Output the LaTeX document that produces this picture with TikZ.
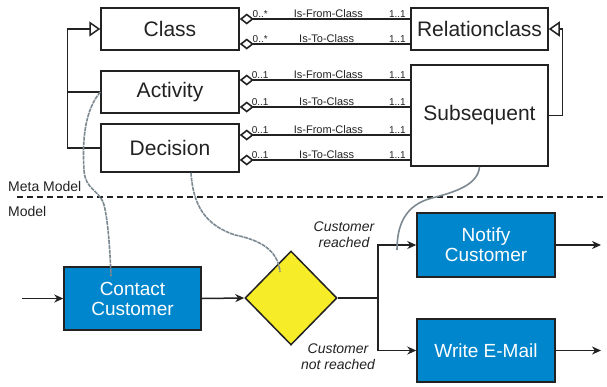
\documentclass[tikz,border=0pt]{standalone}
\usepackage{fontspec}
\setmainfont{Liberation Sans}
\usetikzlibrary{arrows.meta,shapes.geometric,calc}
\definecolor{boxblue}{RGB}{0,134,204}
\definecolor{dyellow}{RGB}{247,236,40}
\definecolor{txt}{RGB}{34,34,34}
\definecolor{linkgray}{RGB}{125,137,145}
\begin{document}
\begin{tikzpicture}[x=1pt,y=-1pt,
  metabox/.style={draw=txt,line width=1.5pt,fill=white,inner sep=0pt,text=txt,
    font=\fontsize{21}{24}\selectfont},
  procbox/.style={draw=txt,line width=1.5pt,fill=boxblue,inner sep=0pt,text=white,
    align=center,font=\fontsize{19}{22}\selectfont},
  assoc/.style={draw=txt,line width=1.5pt,{Diamond[open,length=14pt,width=11pt,line width=1.6pt]}-},
  gen/.style={draw=txt,line width=1.4pt,-{Triangle[open,length=11pt,width=15pt,line width=1.5pt]}},
  tree/.style={draw=txt,line width=1.4pt},
  flow/.style={draw=txt,line width=1.5pt,-{Stealth[length=9pt,width=8pt]}},
  lbl/.style={font=\fontsize{11}{12}\selectfont,text=txt,inner sep=1pt,anchor=south},
  mult/.style={font=\fontsize{10}{12}\selectfont,text=txt,inner sep=1pt,anchor=south},
  cond/.style={font=\itshape\fontsize{14}{16}\selectfont,text=txt,align=center,inner sep=0pt},
  link/.style={draw=linkgray,line width=1.6pt},
  linkd/.style={link,dash pattern=on 4pt off 0.8pt},
  sect/.style={font=\fontsize{14}{16}\selectfont,text=txt,inner sep=0pt,anchor=base west}
]
\useasboundingbox (0,0) rectangle (607,386);

% meta model boxes
\node[metabox,minimum width=138pt,minimum height=42pt] (Class) at (170,29) {Class};
\node[metabox,minimum width=138pt,minimum height=42pt] (Activity) at (170,92) {Activity};
\node[metabox,minimum width=138pt,minimum height=48pt] (Decision) at (170,148) {Decision};
\node[metabox,minimum width=137pt,minimum height=42pt] (Relation) at (479.5,29) {Relationclass};
\node[metabox,minimum width=137pt,minimum height=101pt] (Subseq) at (479.5,115.5) {Subsequent};

% associations
\coordinate (c1) at ([yshift=10pt]Class.east);
\coordinate (c2) at ([yshift=-15pt]Class.east);
\coordinate (a1) at ([yshift=12pt]Activity.east);
\coordinate (a2) at ([yshift=-15pt]Activity.east);
\coordinate (d1) at ([yshift=13pt]Decision.east);
\coordinate (d2) at ([yshift=-12pt]Decision.east);

\draw[assoc] (c1) -- node[pos=0.12,mult]{0..*} node[pos=0.52,lbl]{Is-From-Class} node[pos=0.925,mult]{1..1} (c1 -| Relation.west);
\draw[assoc] (c2) -- node[pos=0.12,mult]{0..*} node[pos=0.51,lbl]{Is-To-Class} node[pos=0.925,mult]{1..1} (c2 -| Relation.west);
\draw[assoc] (a1) -- node[pos=0.12,mult]{0..1} node[pos=0.52,lbl]{Is-From-Class} node[pos=0.925,mult]{1..1} (a1 -| Subseq.west);
\draw[assoc] (a2) -- node[pos=0.12,mult]{0..1} node[pos=0.51,lbl]{Is-To-Class} node[pos=0.925,mult]{1..1} (a2 -| Subseq.west);
\draw[assoc] (d1) -- node[pos=0.12,mult]{0..1} node[pos=0.52,lbl]{Is-From-Class} node[pos=0.925,mult]{1..1} (d1 -| Subseq.west);
\draw[assoc] (d2) -- node[pos=0.12,mult]{0..1} node[pos=0.51,lbl]{Is-To-Class} node[pos=0.925,mult]{1..1} (d2 -| Subseq.west);

% generalisation
\coordinate (treetop) at ($(Class.west)+(-33,0)$);
\draw[tree] (Decision.west) -| (treetop);
\draw[tree] (Activity.west) -- (Activity.west -| treetop);
\draw[gen] (treetop) -- (Class.west);
\coordinate (rtop) at ($(Relation.east)+(14,0)$);
\draw[tree] (Subseq.east) -| (rtop);
\draw[gen] (rtop) -- (Relation.east);

% separator
\coordinate (sepL) at (17,197);
\coordinate (sepR) at (607,197);
\draw[txt,line width=1.8pt,dash pattern=on 6pt off 4pt] (sepL) -- (sepR);
\node[sect] (meta) at (8,191) {Meta Model};
\node[sect] (model) at (8,216) {Model};

% process
\node[procbox,minimum width=137pt,minimum height=63pt] (Contact) at (132.5,298.5) {Contact\\[-2pt]Customer};
\node[draw=txt,line width=1.5pt,fill=dyellow,diamond,minimum width=92pt,minimum height=94pt,inner sep=0pt] (Dec) at (291,298) {};
\node[procbox,minimum width=138pt,minimum height=64pt] (Notify) at (486,245) {Notify\\[-2pt]Customer};
\node[procbox,minimum width=138pt,minimum height=63pt] (Write) at (486,350.5) {Write E-Mail};

\coordinate (start) at (22,298.5);
\coordinate (branch) at (378,298);
\coordinate (out1) at (601,245);
\coordinate (out2) at (601,350.5);
\draw[flow] (start) -- (Contact.west);
\draw[flow] (Contact.east) -- (Dec.west);
\draw[txt,line width=1.5pt] (Dec.east) -- (branch);
\draw[flow] (branch) |- (Notify.west);
\draw[flow] (branch) |- (Write.west);
\draw[flow] (Notify.east) -- (out1);
\draw[flow] (Write.east) -- (out2);

\node[cond] (reached) at (344,235) {Customer\\reached};
\node[cond] (notreached) at (338,357) {Customer\\not reached};

% instance links
\draw[linkd] (Activity.west) .. controls (85,110) and (82,140) .. (84,170)
  .. controls (85,190) and (100,190) .. (104,205)
  .. controls (108,220) and (110,250) .. ([xshift=-21.5pt,yshift=-10pt]Contact.north);
\draw[linkd] ([xshift=21pt]Decision.south) .. controls (193,205) and (205,225) .. (235,235)
  .. controls (260,240) and (278,250) .. ([xshift=-11pt,yshift=26pt]Dec.center);
\coordinate (lnk3) at (397,250);
\draw[link] (Subseq.south) .. controls (478,185) and (455,192) .. (432,198)
  .. controls (405,205) and (397,225) .. (lnk3);
\end{tikzpicture}
\end{document}
